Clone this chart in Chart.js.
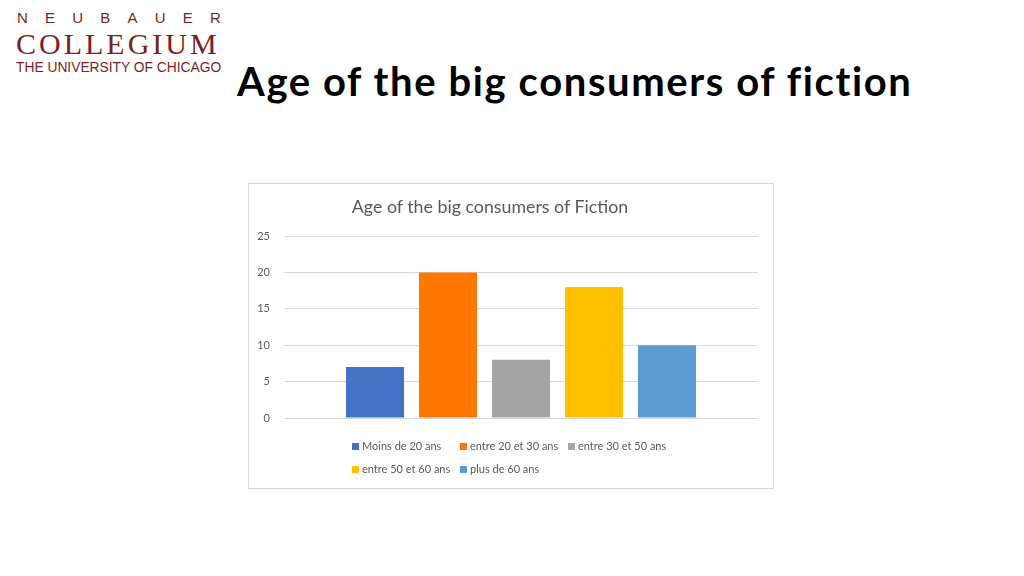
<!DOCTYPE html>
<html><head><meta charset="utf-8">
<script src="https://cdn.jsdelivr.net/npm/chart.js@4"></script>
<style>
body{margin:0;width:1024px;height:576px;background:#fff;position:relative;overflow:hidden;font-family:Lato,sans-serif}
.logo1{position:absolute;left:17px;top:9px;font-family:"Liberation Sans",sans-serif;font-size:15px;letter-spacing:17.2px;color:#7a1f24}
.logo2{position:absolute;left:16px;top:27px;font-family:"Liberation Serif",serif;font-size:30px;letter-spacing:3px;color:#7a1f24}
.logo3{position:absolute;left:16px;top:60px;font-family:"Liberation Sans",sans-serif;font-size:13.8px;color:#7a1f24}
.title{position:absolute;left:237px;top:57px;font-size:40px;letter-spacing:1.6px;font-weight:bold;color:#000}
.box{position:absolute;left:248px;top:183px;width:524px;height:304px;border:1px solid #d9d9d9}
.ctitle{position:absolute;left:0;width:100%;top:11px;text-align:center;font-size:17.8px;color:#595959;padding-right:42px;box-sizing:border-box}
.leg{position:absolute;font-size:11px;color:#595959;white-space:nowrap}
.leg span{display:inline-block;width:7px;height:7px;margin-right:3px;vertical-align:0}
</style></head><body>
<div class="logo1">NEUBAUER</div>
<div class="logo2">COLLEGIUM</div>
<div class="logo3">THE UNIVERSITY OF CHICAGO</div>
<div class="title">Age of the big consumers of fiction</div>
<div class="box">
<canvas id="c" width="524" height="304"></canvas>
<div class="ctitle">Age of the big consumers of Fiction</div>
<div id="legend"></div>
</div>
<script>
const categories = [""];
const seriesNames = ["Moins de 20 ans","entre 20 et 30 ans","entre 30 et 50 ans","entre 50 et 60 ans","plus de 60 ans"];
const seriesValues = [7,20,8,18,10];
const seriesColors = ["#4472c4","#ff7700","#a5a5a5","#ffc000","#5b9bd5"];
const yTicks = [0,5,10,15,20,25];

const legPos=[[103,255],[211,255],[319,255],[103,278],[211,278]];
const lg=document.getElementById('legend');
seriesNames.forEach((n,i)=>{const d=document.createElement('div');d.className='leg';d.style.left=legPos[i][0]+'px';d.style.top=legPos[i][1]+'px';
d.innerHTML='<span style="background:'+seriesColors[i]+'"></span>'+n;lg.appendChild(d);});

new Chart(document.getElementById('c'),{type:'bar',
data:{labels:categories,datasets:seriesNames.map((n,i)=>({label:n,data:[seriesValues[i]],backgroundColor:seriesColors[i],categoryPercentage:0.77,barPercentage:0.795}))},
options:{responsive:false,animation:false,
layout:{padding:{left:8,right:15,top:52,bottom:70}},
plugins:{legend:{display:false},tooltip:{enabled:false}},
scales:{x:{display:false},
y:{min:0,max:25,afterBuildTicks:s=>{s.ticks=yTicks.map(v=>({value:v}));},afterFit:s=>{s.width=27;},
border:{display:false},grid:{color:'#d9d9d9',drawTicks:false},
ticks:{color:'#595959',font:{family:'Lato',size:11},padding:14}}}}});
</script>
</body></html>
